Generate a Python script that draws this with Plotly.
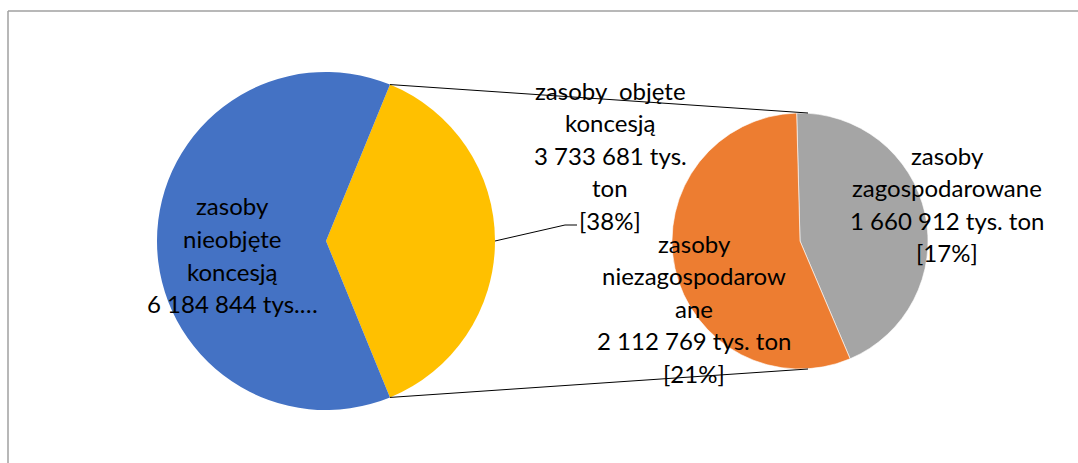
import math
import plotly.graph_objects as go

# ---- data ----
main_labels = ["zasoby objęte koncesją", "zasoby nieobjęte koncesją"]
main_values = [3733681, 6184844]
main_colors = ["#FFC000", "#4472C4"]

sub_labels = ["zasoby zagospodarowane", "zasoby niezagospodarowane"]
sub_values = [1660912, 2112769]
sub_colors = ["#A5A5A5", "#ED7D31"]

label_blue = ["zasoby", "nieobjęte", "koncesją", "6 184 844 tys.…"]
label_yellow = ["zasoby  objęte", "koncesją", "3 733 681 tys.", "ton", "[38%]"]
label_gray = ["zasoby", "zagospodarowane", "1 660 912 tys. ton", "[17%]"]
label_orange = ["zasoby", "niezagospodarow", "ane", "2 112 769 tys. ton", "[21%]"]

W, H = 1078, 463


def px(x):
    return x / W


def py(y):
    return 1 - y / H


# pie geometry (pixels)
L_cx, L_cy, L_r = 326, 241, 169
R_cx, R_cy, R_r = 800, 241, 128

frac_main = main_values[0] / sum(main_values)
half = frac_main * 180.0  # half angle of the exploded slice (deg)

fig = go.Figure()
fig.add_trace(go.Pie(
    values=main_values, labels=main_labels, sort=False, direction="clockwise",
    rotation=90 - half, marker=dict(colors=main_colors, line=dict(width=0)),
    textinfo="none", hoverinfo="skip", showlegend=False,
    domain=dict(x=[px(L_cx - L_r), px(L_cx + L_r)], y=[py(L_cy + L_r), py(L_cy - L_r)]),
))
fig.add_trace(go.Pie(
    values=sub_values, labels=sub_labels, sort=False, direction="clockwise",
    rotation=-1.5, marker=dict(colors=sub_colors, line=dict(color="white", width=0.6)),
    textinfo="none", hoverinfo="skip", showlegend=False,
    domain=dict(x=[px(R_cx - R_r), px(R_cx + R_r)], y=[py(R_cy + R_r), py(R_cy - R_r)]),
))

shapes = []
# border (top + left)
shapes.append(dict(type="line", xref="paper", yref="paper", x0=px(8), y0=py(11), x1=1, y1=py(11),
                   line=dict(color="#A0A0A0", width=1.5)))
shapes.append(dict(type="line", xref="paper", yref="paper", x0=px(8), y0=py(11), x1=px(8), y1=0,
                   line=dict(color="#A0A0A0", width=1.5)))

# connector lines from exploded slice edges to the secondary pie
t = math.radians(half)
ax, ay_top, ay_bot = L_cx + L_r * math.cos(t), L_cy - L_r * math.sin(t), L_cy + L_r * math.sin(t)
bx = R_cx + 8
shapes.append(dict(type="line", xref="paper", yref="paper", x0=px(ax), y0=py(ay_top),
                   x1=px(bx), y1=py(R_cy - R_r), line=dict(color="black", width=1)))
shapes.append(dict(type="line", xref="paper", yref="paper", x0=px(ax), y0=py(ay_bot),
                   x1=px(bx), y1=py(R_cy + R_r), line=dict(color="black", width=1)))
# leader line for the yellow slice label
shapes.append(dict(type="path", xref="paper", yref="paper",
                   path=f"M {px(L_cx + L_r)},{py(L_cy)} L {px(565)},{py(225)} L {px(577)},{py(225)}",
                   line=dict(color="black", width=1)))

annotations = []


def add_label(lines, cx, y0, step=32.5):
    for i, s in enumerate(lines):
        annotations.append(dict(text=s, x=px(cx), y=py(y0 + i * step), xref="paper", yref="paper",
                                xanchor="center", yanchor="middle", showarrow=False,
                                font=dict(family="Lato", size=24, color="black")))


add_label(label_blue, 232, 206)
add_label(label_yellow, 610, 90)
add_label(label_gray, 947, 155)
add_label(label_orange, 694, 243)

fig.update_layout(
    width=W, height=H, margin=dict(l=0, r=0, t=0, b=0),
    paper_bgcolor="white", plot_bgcolor="white",
    shapes=shapes, annotations=annotations, showlegend=False,
)
fig.write_html("out.html", config={"displayModeBar": False},
               post_script="document.body.style.margin='0';")
